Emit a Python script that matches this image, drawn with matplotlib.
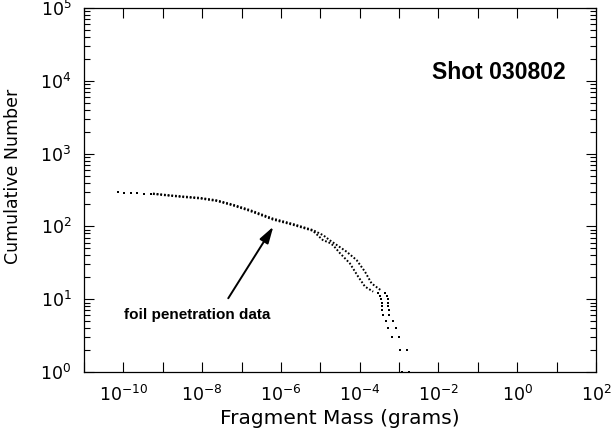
import math
import matplotlib
matplotlib.use("Agg")
import matplotlib.pyplot as plt
from matplotlib.ticker import FixedLocator, FuncFormatter, LogLocator, NullFormatter

# sparse dots at the small-mass end (shared by both runs)
left_mass = [7.1e-11, 1.04e-10, 1.53e-10, 2.25e-10, 3.33e-10, 4.93e-10]
left_n = [294, 291, 288, 285, 282, 279]

# dense part of the two cumulative curves (grams, count)
a_mass = [5.64e-10, 1.28e-9, 3.26e-9, 8.79e-9, 2.38e-8, 6.05e-8, 1.63e-7, 6.27e-7,
          2.02e-6, 6.49e-6, 1.19e-5, 1.59e-5, 2.12e-5, 3.14e-5, 5.64e-5, 9.16e-5,
          1.36e-4, 2.20e-4]
a_n = [279, 266, 253, 242, 223, 194, 163, 124, 105, 87, 64, 61, 55, 43, 31, 20.4,
       14.9, 12.7]
b_mass = [5.64e-10, 1.28e-9, 3.26e-9, 8.79e-9, 2.38e-8, 6.05e-8, 1.63e-7, 6.27e-7,
          2.02e-6, 6.49e-6, 1.19e-5, 1.75e-5, 4.66e-5, 8.34e-5, 1.36e-4, 2.00e-4,
          2.95e-4, 3.66e-4]
b_n = [283, 270, 258, 247, 228, 199, 168, 128, 108, 89, 75.5, 64.4, 44.9, 34.5,
       23.9, 16.5, 14.1, 13]

# last dozen fragments, one dot each
tail_n = [12, 11, 10, 9, 8, 7, 6, 5, 4, 3, 2, 1]
a_tail_mass = [2.90e-4, 3.26e-4, 3.56e-4, 3.66e-4, 3.72e-4, 3.72e-4, 3.88e-4,
               4.62e-4, 5.28e-4, 6.46e-4, 1.05e-3, 1.18e-3]
b_tail_mass = [4.37e-4, 4.90e-4, 5.20e-4, 5.28e-4, 5.28e-4, 5.51e-4, 5.51e-4,
               7.08e-4, 8.15e-4, 9.89e-4, 1.55e-3, 1.77e-3]

x_exps = list(range(-11, 3))


def xfmt(v, p):
    e = round(math.log10(v))
    return "" if e % 2 else r"$10^{%d}$" % e


def yfmt(v, p):
    return r"$10^{%d}$" % round(math.log10(v))


fig = plt.figure(figsize=(6.14, 4.4), dpi=100)
ax = fig.add_axes([84/614, 1 - 372/440, 512/614, 364/440])

dot = dict(color="black", lw=1.4, linestyle=(0, (0.9, 1.0)))
ax.plot(a_mass, a_n, **dot)
ax.plot(b_mass, b_n, **dot)
ax.plot(left_mass, left_n, ls="none", marker="s", ms=1.6, color="black", mew=0)
ax.plot(a_tail_mass, tail_n, ls="none", marker="s", ms=1.9, color="black", mew=0)
ax.plot(b_tail_mass, tail_n, ls="none", marker="s", ms=1.9, color="black", mew=0)

ax.set_xscale("log")
ax.set_yscale("log")
ax.set_xlim(1e-11, 1e2)
ax.set_ylim(1, 1e5)

ax.xaxis.set_major_locator(FixedLocator([10.0**e for e in x_exps]))
ax.xaxis.set_minor_locator(FixedLocator([]))
ax.xaxis.set_major_formatter(FuncFormatter(xfmt))
ax.yaxis.set_major_locator(LogLocator(base=10, numticks=10))
ax.yaxis.set_minor_locator(LogLocator(base=10, subs=range(2, 10), numticks=20))
ax.yaxis.set_minor_formatter(NullFormatter())
ax.yaxis.set_major_formatter(FuncFormatter(yfmt))

ax.tick_params(which="both", direction="in", top=True, right=True, width=0.8,
               labelsize=12.5)
ax.tick_params(which="major", length=7)
ax.tick_params(which="minor", length=4)
ax.tick_params(axis="x", pad=9)
ax.tick_params(axis="y", pad=9)
for s in ax.spines.values():
    s.set_linewidth(0.9)

ax.set_xlabel("Fragment Mass (grams)", fontsize=14.5, labelpad=3)
ax.set_ylabel("Cumulative Number", fontsize=12.5)
ax.yaxis.set_label_coords(-0.121, 0.538)

ax.text(0.81, 0.824, "Shot 030802", transform=ax.transAxes, fontsize=16.5,
        family="Liberation Sans", weight="bold", ha="center", va="center")
ax.text(0.2217, 0.157, "foil penetration data", transform=ax.transAxes,
        fontsize=11, family="Liberation Sans", weight="bold", ha="center",
        va="center")
ax.annotate("", xy=(6.4e-7, 99), xytext=(4.6e-8, 10.3),
            arrowprops=dict(arrowstyle="-|>,head_length=1.0,head_width=0.3",
                            color="black", lw=1.4, shrinkA=0, shrinkB=0))

fig.savefig("out.png", dpi=100)
